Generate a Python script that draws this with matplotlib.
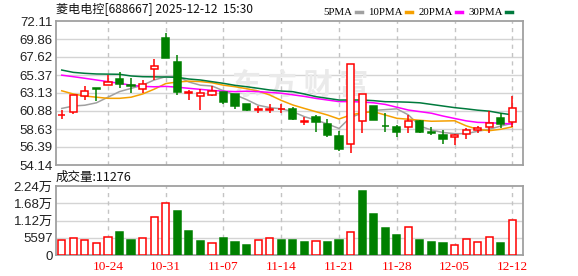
"""K线图: 菱电电控 日线 + 成交量"""
import matplotlib
matplotlib.use('Agg')
import matplotlib.pyplot as plt
from matplotlib.lines import Line2D

plt.rcParams['font.family'] = ['Liberation Sans', 'Noto Sans CJK SC']

# ================================================
# DATA
# ================================================
dates = ['10-20', '10-21', '10-22', '10-23', '10-24',
         '10-27', '10-28', '10-29', '10-30', '10-31',
         '11-03', '11-04', '11-05', '11-06', '11-07',
         '11-10', '11-11', '11-12', '11-13', '11-14',
         '11-17', '11-18', '11-19', '11-20', '11-21',
         '11-24', '11-25', '11-26', '11-27', '11-28',
         '12-01', '12-02', '12-03', '12-04', '12-05',
         '12-08', '12-09', '12-10', '12-11', '12-12']

opens = [60.35, 60.80, 62.79, 63.75, 64.08, 64.83, 64.10, 63.58, 66.08, 69.99,
         66.99, 63.17, 62.71, 62.92, 63.25, 63.00, 61.75, 61.05, 61.05, 61.10,
         61.09, 59.52, 60.09, 59.22, 57.76, 56.72, 59.63, 61.50, 59.05, 58.92,
         58.84, 59.63, 58.25, 57.88, 57.60, 57.97, 58.47, 58.84, 59.97, 59.46]
highs = [61.00, 62.88, 64.00, 63.75, 65.37, 65.70, 64.96, 64.71, 67.33, 70.60,
         67.90, 63.50, 63.62, 64.04, 63.25, 63.00, 61.75, 61.50, 61.70, 61.70,
         61.42, 60.17, 60.38, 59.92, 58.38, 66.70, 62.96, 61.50, 60.59, 59.13,
         60.38, 59.70, 58.84, 58.50, 57.95, 58.80, 59.00, 60.92, 60.67, 62.75]
lows = [59.84, 60.47, 62.25, 62.17, 64.08, 63.71, 63.16, 63.16, 64.75, 67.53,
        62.84, 62.25, 61.00, 62.79, 61.75, 61.17, 60.92, 60.59, 60.60, 60.60,
        59.76, 59.13, 58.30, 57.60, 55.93, 55.68, 58.10, 59.70, 58.30, 57.68,
        58.10, 58.10, 57.88, 56.76, 56.64, 57.40, 58.13, 58.17, 58.72, 58.84]
closes = [60.42, 62.88, 63.37, 63.68, 64.50, 64.25, 64.05, 64.21, 66.49, 67.53,
          63.29, 63.25, 63.08, 63.33, 62.00, 61.50, 61.00, 61.12, 61.10, 61.15,
          59.84, 59.57, 59.51, 57.88, 56.17, 66.70, 62.96, 59.76, 58.97, 58.30,
          59.63, 58.30, 58.19, 57.35, 57.88, 58.47, 58.72, 59.34, 59.26, 61.21]

ma5 = [61.20, 61.50, 61.60, 61.90, 62.60, 63.30, 63.70, 64.10, 64.75, 65.16,
       65.20, 64.50, 64.10, 64.00, 63.40, 62.90, 62.30, 61.60, 61.30, 61.15,
       60.80, 60.17, 59.75, 59.26, 58.70, 60.10, 60.60, 60.95, 61.05, 61.15,
       60.40, 59.00, 58.50, 58.20, 58.05, 58.05, 58.35, 58.60, 59.00, 59.34]
ma10 = [63.40, 63.00, 62.75, 62.60, 62.46, 62.46, 62.60, 63.00, 63.60, 64.30,
        64.50, 64.60, 64.55, 64.40, 64.10, 63.91, 63.66, 63.37, 62.88, 62.20,
        61.63, 61.20, 60.79, 60.38, 59.88, 60.38, 60.67, 60.79, 60.38, 59.97,
        59.85, 59.72, 59.60, 59.63, 59.66, 59.03, 58.60, 58.42, 58.60, 58.90]
ma20 = [65.35, 65.16, 64.96, 64.75, 64.54, 64.33, 64.10, 63.95, 63.90, 63.95,
        63.85, 63.71, 63.58, 63.45, 63.35, 63.30, 63.35, 63.30, 63.20, 63.10,
        62.90, 62.70, 62.45, 62.25, 62.05, 62.05, 62.00, 61.90, 61.70, 61.35,
        61.00, 60.80, 60.60, 60.25, 59.95, 59.65, 59.46, 59.42, 59.34, 59.26]
ma30 = [65.99, 65.70, 65.58, 65.50, 65.48, 65.46, 65.25, 65.16, 65.14, 65.12,
        65.08, 64.87, 64.75, 64.54, 64.33, 64.08, 63.91, 63.71, 63.50, 63.37,
        63.29, 63.00, 62.67, 62.46, 62.25, 62.25, 62.25, 62.17, 62.04, 62.02,
        61.98, 61.90, 61.70, 61.50, 61.30, 61.15, 60.98, 60.86, 60.60, 60.40]

volumes = [4867, 5407, 4867, 3786, 5731, 7463, 4867, 5407, 12436, 16765,
           14277, 7787, 4543, 3786, 5407, 4218, 3245, 4867, 5407, 4867,
           4867, 4218, 4435, 4218, 4867, 7355, 20766, 13303, 8761, 6489,
           8979, 4867, 4218, 3894, 3138, 5083, 4110, 5731, 3894, 11276]
# 1 = 收盘高于前一日 (红), 0 = 低于 (绿)
vol_up = [1, 1, 1, 1, 1, 0, 0, 1, 1, 1,
          0, 0, 0, 1, 0, 0, 0, 1, 1, 0,
          0, 0, 1, 0, 0, 1, 0, 0, 0, 0,
          1, 0, 0, 0, 1, 1, 1, 1, 0, 1]

price_ticks = [54.14, 56.39, 58.63, 60.88, 63.13, 65.37, 67.62, 69.86, 72.11]
vol_ticks = [0, 5597, 11194, 16791, 22388]
vol_tick_labels = ['0', '5597', '1.12万', '1.68万', '2.24万']
date_ticks = ['10-24', '10-31', '11-07', '11-14', '11-21', '11-28', '12-05', '12-12']

title = '菱电电控[688667] 2025-12-12  15:30'
ma_names = ['5PMA', '10PMA', '20PMA', '30PMA']

# ================================================
# STYLE
# ================================================
ROOD = '#ff0000'
GROEN = '#008000'
MA_KLEUREN = ['#a0a0a0', '#f5a000', '#ff00ff', '#007a3d']
GRID = '#d4d4d4'
RAND = '#a0a0a0'


def style_axes(ax, ticks, xpos):
    ax.set_facecolor('white')
    for s in ax.spines.values():
        s.set_color(RAND)
        s.set_linewidth(1.3)
    ax.tick_params(length=0, pad=2, labelsize=9.5, colors='#222222')
    ax.set_yticks(ticks)
    ax.set_ylim(ticks[0], ticks[-1])
    for t in ticks[1:-1]:
        ax.axhline(t, color=GRID, lw=1.0, zorder=0)
    for p in xpos:
        ax.axvline(p, color='#c4c4c4', lw=1.0, ls=(0, (3, 3)), zorder=0)


def main():
    fig = plt.figure(figsize=(5.78, 2.76), dpi=100)
    left = 55.5 / 578
    width = 467 / 578
    ax1 = fig.add_axes([left, 1 - 165 / 276, width, 144 / 276])
    ax2 = fig.add_axes([left, 1 - 255 / 276, width, 69 / 276])

    x = list(range(len(dates)))
    xpos = [dates.index(d) for d in date_ticks]

    # --- prijs paneel
    style_axes(ax1, price_ticks, xpos)
    ax1.set_yticklabels([f'{t:.2f}' for t in price_ticks])
    ax1.text(0.525, 0.56, '东 方 财 富', transform=ax1.transAxes, fontsize=21,
             color='#eaeaea', ha='center', va='center', fontweight='bold',
             family=['Noto Sans CJK SC'], zorder=0)

    for i, naam in enumerate(ma_names):
        ma = [ma5, ma10, ma20, ma30][i]
        ax1.plot(x, ma, color=MA_KLEUREN[i], lw=1.1, zorder=2)

    kleuren = [ROOD if c >= o else GROEN for o, c in zip(opens, closes)]
    ax1.vlines(x, lows, highs, colors=kleuren, lw=1.1, zorder=3)
    body_bottom = [min(o, c) for o, c in zip(opens, closes)]
    body_h = [abs(c - o) for o, c in zip(opens, closes)]
    face = ['white' if k == ROOD else GROEN for k in kleuren]
    ax1.bar(x, body_h, bottom=body_bottom, width=0.62, color=face,
            edgecolor=kleuren, linewidth=1.1, zorder=4)

    ax1.set_xlim(-0.54, 39.88)
    ax1.set_xticks(xpos)
    ax1.set_xticklabels([])

    ax1.text(0.0, 1.085, title, transform=ax1.transAxes, fontsize=8.7,
             ha='left', va='center', color='#111111',
             family=['Noto Sans CJK SC', 'DejaVu Sans'])

    handles = [Line2D([], [], color=k, lw=2.5) for k in MA_KLEUREN]
    ax1.legend(handles, ma_names, loc='lower right', bbox_to_anchor=(0.978, 1.025),
               ncol=4, frameon=False, markerfirst=False, handlelength=0.55,
               handletextpad=0.3, columnspacing=0.6, borderpad=0, borderaxespad=0,
               prop={'family': 'Liberation Serif', 'size': 7.8})

    # --- volume paneel
    style_axes(ax2, vol_ticks, xpos)
    ax2.set_yticklabels(vol_tick_labels)
    vkleur = [ROOD if u else GROEN for u in vol_up]
    vface = ['white' if u else GROEN for u in vol_up]
    ax2.bar(x, volumes, width=0.62, color=vface, edgecolor=vkleur,
            linewidth=1.1, zorder=3)
    ax2.set_xlim(-0.54, 39.88)
    ax2.set_xticks(xpos)
    ax2.set_xticklabels(date_ticks, color=ROOD, fontsize=9.5,
                        family='Liberation Serif')
    ax2.tick_params(axis='x', pad=4)

    ax2.text(0.0, 1.13, f'成交量:{volumes[-1]}', transform=ax2.transAxes,
             fontsize=9, ha='left', va='center', color='#111111',
             family=['Noto Sans CJK SC', 'DejaVu Sans'])

    fig.savefig('out.png', dpi=100)


if __name__ == "__main__":
    main()
